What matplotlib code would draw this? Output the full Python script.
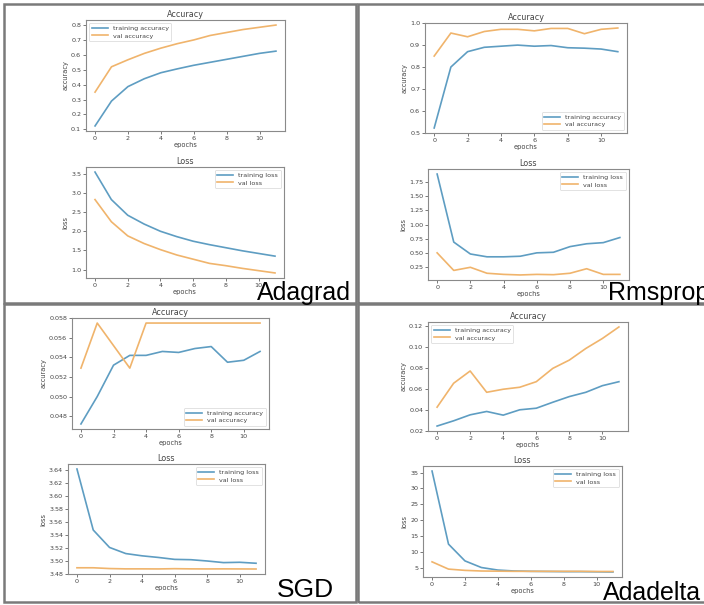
import matplotlib
matplotlib.use("Agg")
import matplotlib.pyplot as plt
from matplotlib.patches import Rectangle
from matplotlib.ticker import MultipleLocator

epochs = list(range(12))

adagrad_train_acc = [0.123, 0.29, 0.387, 0.44, 0.48, 0.506, 0.53, 0.55, 0.57, 0.59, 0.61, 0.625]
adagrad_val_acc = [0.35, 0.52, 0.567, 0.61, 0.645, 0.675, 0.70, 0.73, 0.75, 0.77, 0.785, 0.80]
adagrad_train_loss = [3.55, 2.83, 2.42, 2.19, 2.0, 1.86, 1.74, 1.65, 1.57, 1.49, 1.42, 1.35]
adagrad_val_loss = [2.83, 2.25, 1.88, 1.68, 1.52, 1.38, 1.27, 1.16, 1.10, 1.03, 0.97, 0.91]

rms_train_acc = [0.522, 0.80, 0.87, 0.89, 0.895, 0.90, 0.895, 0.898, 0.888, 0.886, 0.882, 0.87]
rms_val_acc = [0.85, 0.955, 0.938, 0.962, 0.972, 0.972, 0.965, 0.976, 0.976, 0.952, 0.972, 0.978]
rms_train_loss = [1.89, 0.69, 0.48, 0.43, 0.43, 0.44, 0.50, 0.51, 0.61, 0.66, 0.68, 0.77]
rms_val_loss = [0.50, 0.19, 0.245, 0.14, 0.12, 0.11, 0.12, 0.115, 0.14, 0.22, 0.12, 0.12]

sgd_train_acc = [0.0472, 0.0500, 0.0532, 0.0542, 0.0542, 0.0546, 0.0545, 0.0549, 0.0551, 0.0535, 0.0537, 0.0546]
sgd_val_acc = [0.0529, 0.0575, 0.0552, 0.0529, 0.0575, 0.0575, 0.0575, 0.0575, 0.0575, 0.0575, 0.0575, 0.0575]
sgd_train_loss = [3.642, 3.5475, 3.5205, 3.511, 3.5075, 3.505, 3.502, 3.5015, 3.4995, 3.497, 3.4975, 3.496]
sgd_val_loss = [3.489, 3.489, 3.4878, 3.4873, 3.4873, 3.4872, 3.4876, 3.4873, 3.4872, 3.4873, 3.4872, 3.4871]

ada_train_acc = [0.0245, 0.0295, 0.0352, 0.0384, 0.0349, 0.040, 0.0415, 0.0472, 0.0526, 0.0567, 0.063, 0.0668]
ada_val_acc = [0.0425, 0.0653, 0.077, 0.0567, 0.0596, 0.0615, 0.0668, 0.0795, 0.0874, 0.0985, 0.108, 0.119]
ada_train_loss = [35.5, 12.4, 7.1, 5.0, 4.2, 3.9, 3.8, 3.75, 3.7, 3.7, 3.65, 3.6]
ada_val_loss = [6.8, 4.5, 4.1, 3.9, 3.85, 3.8, 3.8, 3.8, 3.8, 3.8, 3.75, 3.75]

W, H = 704, 605
fig = plt.figure(figsize=(W / 100, H / 100), dpi=100)
fig.patch.set_facecolor("white")

BLUE = "#5e9dc2"
ORANGE = "#f0b46c"
SPINE = "#8a8a8a"
TXT = "#444444"


def px_axes(l, t, r, b):
    return fig.add_axes([l / W, 1 - b / H, (r - l) / W, (b - t) / H])


def draw(rect, title, ylabel, tr, va, tl, vl, loc, ystep):
    ax = px_axes(*rect)
    ax.plot(epochs, tr, color=BLUE, lw=1.2, label=tl)
    ax.plot(epochs, va, color=ORANGE, lw=1.2, label=vl)
    ax.set_title(title, fontsize=5.8, color=TXT, pad=2)
    ax.set_xlabel("epochs", fontsize=4.8, color=TXT, labelpad=1)
    ax.set_ylabel(ylabel, fontsize=4.8, color=TXT, labelpad=2)
    ax.xaxis.set_major_locator(MultipleLocator(2))
    ax.yaxis.set_major_locator(MultipleLocator(ystep))
    ax.tick_params(labelsize=4.6, colors=TXT, length=2, width=0.5, pad=1.5)
    for s in ax.spines.values():
        s.set_color(SPINE)
        s.set_linewidth(0.8)
    leg = ax.legend(loc=loc, fontsize=4.6, frameon=True, handlelength=2.5,
                    borderpad=0.4, labelspacing=0.3)
    leg.get_frame().set_linewidth(0.5)
    leg.get_frame().set_edgecolor("#cccccc")
    for t in leg.get_texts():
        t.set_color(TXT)
    return ax


# Adagrad
draw((86, 20, 285, 131), "Accuracy", "accuracy", adagrad_train_acc, adagrad_val_acc,
     "training accuracy", "val accuracy", "upper left", 0.1)
draw((86, 167, 284, 278), "Loss", "loss", adagrad_train_loss, adagrad_val_loss,
     "training loss", "val loss", "upper right", 0.5)
# Rmsprop
draw((425, 23, 627, 133), "Accuracy", "accuracy", rms_train_acc, rms_val_acc,
     "training accuracy", "val accuracy", "lower right", 0.1)
draw((428, 169, 629, 280), "Loss", "loss", rms_train_loss, rms_val_loss,
     "training loss", "val loss", "upper right", 0.25)
# SGD
draw((72, 318, 269, 429), "Accuracy", "accuracy", sgd_train_acc, sgd_val_acc,
     "training accuracy", "val accuracy", "lower right", 0.002)
draw((68, 464, 265, 574), "Loss", "loss", sgd_train_loss, sgd_val_loss,
     "training loss", "val loss", "upper right", 0.02)
# Adadelta
draw((428, 322, 628, 431), "Accuracy", "accuracy", ada_train_acc, ada_val_acc,
     "training accuracy", "val accuracy", "upper left", 0.02)
draw((423, 466, 622, 577), "Loss", "loss", ada_train_loss, ada_val_loss,
     "training loss", "val loss", "upper right", 5)

# Panel borders
BORDER = "#7a7a7a"
for (l, t, r, b) in [(4, 4, 356, 303), (358, 4, 706, 303), (4, 304, 356, 602), (358, 304, 706, 602)]:
    fig.patches.append(Rectangle((l / W, 1 - b / H), (r - l) / W, (b - t) / H,
                                 transform=fig.transFigure, fill=False,
                                 edgecolor=BORDER, linewidth=1.8))

# Optimizer names
names = [("Adagrad", 257, 300, 18), ("Rmsprop", 608, 300, 18),
         ("SGD", 277, 597, 19), ("Adadelta", 603, 600, 18)]
for txt, x, y, fs in names:
    fig.text(x / W, 1 - y / H, txt, fontsize=fs, family="Liberation Sans",
             color="black", ha="left", va="baseline")

fig.savefig("out.png", dpi=100, facecolor="white")
